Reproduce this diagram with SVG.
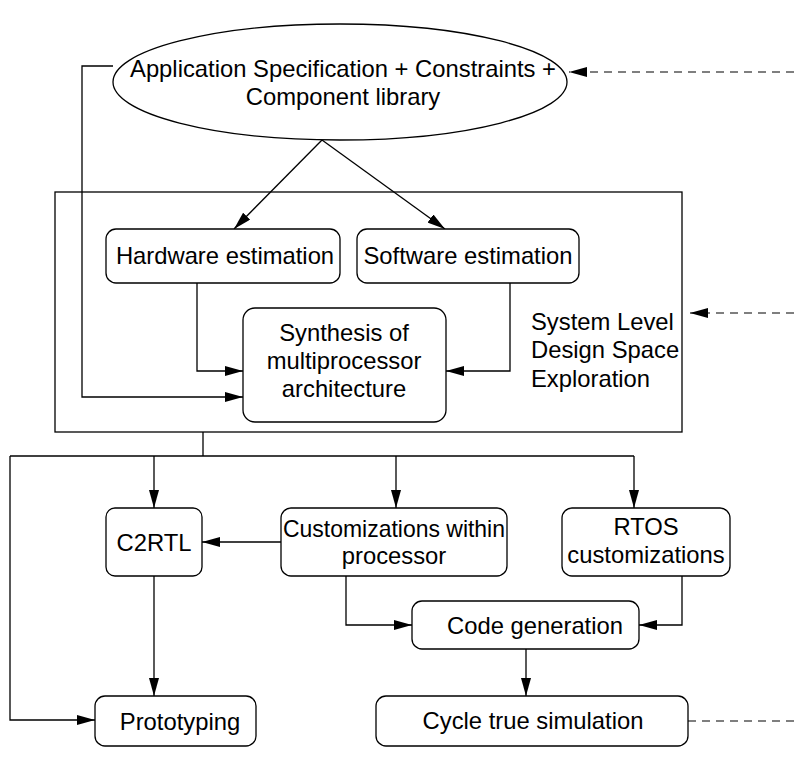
<svg xmlns="http://www.w3.org/2000/svg" width="794" height="758" viewBox="0 0 794 758">
  <style>
    .node { fill: #fff; stroke: #000; stroke-width: 1.3; }
    .frame { fill: none; stroke: #000; stroke-width: 1.3; }
    .wire { fill: none; stroke: #000; stroke-width: 1.3; }
    .dash { fill: none; stroke: #000; stroke-width: 1.2; stroke-dasharray: 8 6; }
    text { font-family: "Liberation Sans", Arial, sans-serif; font-size: 23.8px; fill: #000; }
    .c { text-anchor: middle; }
  </style>
  <defs>
    <marker id="arrow" viewBox="0 0 18 10" refX="18" refY="5" markerWidth="18" markerHeight="10" markerUnits="userSpaceOnUse" orient="auto">
      <path d="M0,0 L18,5 L0,10 Z" fill="#000"/>
    </marker>
  </defs>
  <rect width="794" height="758" fill="#fff"/>

  <!-- design space exploration frame -->
  <g id="dse-frame">
    <rect class="frame" x="55" y="192" width="627" height="240"/>
    <text x="531" y="330">System Level</text>
    <text x="531" y="358">Design Space</text>
    <text x="531" y="387">Exploration</text>
  </g>

  <g id="connectors">
    <path class="wire" d="M113,66 H82 V397 H243" marker-end="url(#arrow)"/>
    <path class="wire" d="M322,140 L234,229" marker-end="url(#arrow)"/>
    <path class="wire" d="M322,140 L445,229" marker-end="url(#arrow)"/>
    <path class="wire" d="M197,283 V371 H243" marker-end="url(#arrow)"/>
    <path class="wire" d="M510,283 V371 H446" marker-end="url(#arrow)"/>
    <path class="dash" d="M794,72 H569" marker-end="url(#arrow)"/>
    <path class="dash" d="M794,313 H690" marker-end="url(#arrow)"/>
    <path class="wire" d="M203,432 V456"/>
    <path class="wire" d="M10,456 H634"/>
    <path class="wire" d="M154,456 V508" marker-end="url(#arrow)"/>
    <path class="wire" d="M396,456 V508" marker-end="url(#arrow)"/>
    <path class="wire" d="M634,456 V508" marker-end="url(#arrow)"/>
    <path class="wire" d="M10,456 V720 H95" marker-end="url(#arrow)"/>
    <path class="wire" d="M281,542 H202" marker-end="url(#arrow)"/>
    <path class="wire" d="M154,576 V696" marker-end="url(#arrow)"/>
    <path class="wire" d="M346,576 V625 H412" marker-end="url(#arrow)"/>
    <path class="wire" d="M682,576 V625 H639" marker-end="url(#arrow)"/>
    <path class="wire" d="M526,649 V696" marker-end="url(#arrow)"/>
    <path class="dash" d="M688,721 H794"/>
  </g>

  <g id="spec">
    <ellipse class="node" cx="340" cy="82" rx="227" ry="58"/>
    <text class="c" x="343" y="77">Application Specification + Constraints +</text>
    <text class="c" x="343" y="105">Component library</text>
  </g>
  <g id="hw-est">
    <rect class="node" x="106" y="229" width="234" height="54" rx="10"/>
    <text class="c" x="225" y="264">Hardware estimation</text>
  </g>
  <g id="sw-est">
    <rect class="node" x="357" y="229" width="222" height="54" rx="10"/>
    <text class="c" x="468" y="264">Software estimation</text>
  </g>
  <g id="synthesis">
    <rect class="node" x="243" y="308" width="203" height="114" rx="12"/>
    <text class="c" x="344" y="341">Synthesis of</text>
    <text class="c" x="344" y="369">multiprocessor</text>
    <text class="c" x="344" y="397">architecture</text>
  </g>
  <g id="c2rtl">
    <rect class="node" x="106" y="508" width="96" height="68" rx="9"/>
    <text class="c" x="154" y="551">C2RTL</text>
  </g>
  <g id="proc-custom">
    <rect class="node" x="281" y="508" width="226" height="68" rx="10"/>
    <text class="c" x="394" y="537" textLength="222" lengthAdjust="spacingAndGlyphs">Customizations within</text>
    <text class="c" x="394" y="564">processor</text>
  </g>
  <g id="rtos-custom">
    <rect class="node" x="562" y="508" width="168" height="68" rx="10"/>
    <text class="c" x="646" y="535">RTOS</text>
    <text class="c" x="646" y="563">customizations</text>
  </g>
  <g id="codegen">
    <rect class="node" x="412" y="601" width="227" height="48" rx="10"/>
    <text class="c" x="535" y="634">Code generation</text>
  </g>
  <g id="prototyping">
    <rect class="node" x="95" y="696" width="161" height="50" rx="10"/>
    <text class="c" x="180" y="730">Prototyping</text>
  </g>
  <g id="cycle-sim">
    <rect class="node" x="376" y="696" width="312" height="50" rx="10"/>
    <text class="c" x="533" y="729">Cycle true simulation</text>
  </g>
</svg>
